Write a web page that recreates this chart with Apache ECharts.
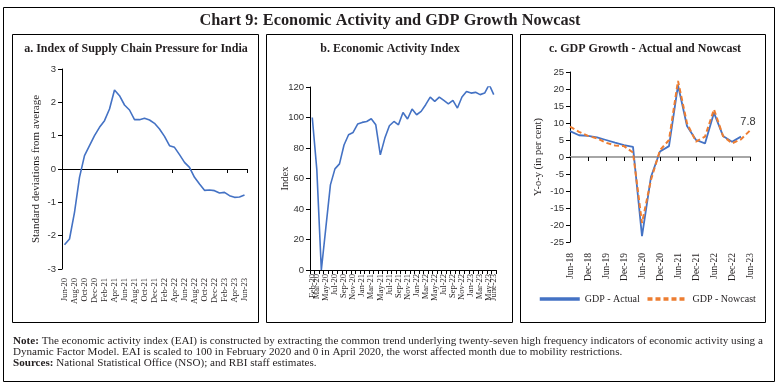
<!DOCTYPE html>
<html><head><meta charset="utf-8">
<script src="https://cdn.jsdelivr.net/npm/echarts@6/dist/echarts.min.js"></script>
<style>html,body{margin:0;padding:0;background:#fff}#c{width:781px;height:387px}</style>
</head><body><div id="c"></div>
<script>
// ---- Panel a: Index of Supply Chain Pressure for India ----
const scpiMonths = ['Jun-20','Jul-20','Aug-20','Sep-20','Oct-20','Nov-20','Dec-20','Jan-21','Feb-21','Mar-21','Apr-21','May-21','Jun-21','Jul-21','Aug-21','Sep-21','Oct-21','Nov-21','Dec-21','Jan-22','Feb-22','Mar-22','Apr-22','May-22','Jun-22','Jul-22','Aug-22','Sep-22','Oct-22','Nov-22','Dec-22','Jan-23','Feb-23','Mar-23','Apr-23','May-23','Jun-23'];
const scpiValues = [-2.27,-2.1,-1.3,-0.25,0.4,0.7,1.0,1.25,1.45,1.8,2.37,2.2,1.92,1.77,1.48,1.48,1.52,1.47,1.37,1.2,0.98,0.7,0.65,0.43,0.2,0.05,-0.25,-0.45,-0.64,-0.63,-0.65,-0.72,-0.7,-0.8,-0.85,-0.84,-0.78];

// ---- Panel b: Economic Activity Index ----
const eaiMonths = ['Feb-20','Mar-20','Apr-20','May-20','Jun-20','Jul-20','Aug-20','Sep-20','Oct-20','Nov-20','Dec-20','Jan-21','Feb-21','Mar-21','Apr-21','May-21','Jun-21','Jul-21','Aug-21','Sep-21','Oct-21','Nov-21','Dec-21','Jan-22','Feb-22','Mar-22','Apr-22','May-22','Jun-22','Jul-22','Aug-22','Sep-22','Oct-22','Nov-22','Dec-22','Jan-23','Feb-23','Mar-23','Apr-23','May-23','June-23'];
const eaiValues = [100,66,0,28,55.8,66.3,69.6,82,88.7,90.2,95.7,96.8,97.4,99.2,95.2,75.5,86.5,94.6,97.4,95.2,103.3,99,105.5,101.8,104,108.4,113.4,110.6,113.4,111.2,109,111.2,106.2,113.4,117.1,116,116.5,115,116,121.6,115];

// ---- Panel c: GDP Growth - Actual and Nowcast ----
const gdpQuarters = ['Jun-18','Sep-18','Dec-18','Mar-19','Jun-19','Sep-19','Dec-19','Mar-20','Jun-20','Sep-20','Dec-20','Mar-21','Jun-21','Sep-21','Dec-21','Mar-22','Jun-22','Sep-22','Dec-22','Mar-23','Jun-23'];
const gdpActual = [7.6,6.4,6.2,5.8,5.0,4.2,3.5,3.0,-23.3,-5.8,1.6,3.2,21.1,9.1,5.0,4.0,13.0,6.2,4.5,6.0,null];
const gdpNowcast = [8.9,7.4,6.2,5.5,4.2,3.4,3.2,1.3,-19.4,-6.7,2.0,5.0,22.4,9.9,4.5,6.0,14.0,6.2,4.0,5.2,7.8];

const SERIF = '"Liberation Serif", "DejaVu Serif", serif';
const SANS = '"Liberation Sans", Arial, sans-serif';
const BLUE = '#4472C4';
const ORANGE = '#ED7D31';
const TXT = '#231F20';

const chart = echarts.init(document.getElementById('c'), null, {renderer: 'canvas'});

function yAx(grid, min, max, interval, name, nameGap, nameSize) {
  return {
    type: 'value', gridIndex: grid, min: min, max: max, interval: interval,
    axisLine: {show: true, lineStyle: {color: '#000', width: 1}},
    axisTick: {show: true, length: 4, lineStyle: {color: '#000'}},
    splitLine: {show: false},
    axisLabel: {fontFamily: SANS, fontSize: 9.5, color: '#333', margin: 6},
    name: name, nameLocation: 'middle', nameGap: nameGap, nameMoveOverlap: false,
    nameTextStyle: {fontFamily: SERIF, fontSize: nameSize, color: TXT}
  };
}

function everyOther(v, i) { return i % 2 === 0 ? v : ''; }
const lastIdx = gdpNowcast.length - 1;

const option = {
  animation: false,
  backgroundColor: '#fff',
  grid: [
    {left: 62, top: 69, width: 185, height: 200},
    {left: 310, top: 87, width: 186, height: 183},
    {left: 570, top: 72, width: 180, height: 170}
  ],
  xAxis: [
    {type: 'category', gridIndex: 0, data: scpiMonths, boundaryGap: true,
     axisLine: {show: true, onZero: true, lineStyle: {color: '#000', width: 1}},
     axisTick: {show: true, length: 4, lineStyle: {color: '#000'}},
     axisLabel: {show: false}},
    {type: 'category', gridIndex: 0, data: scpiMonths, boundaryGap: true, position: 'bottom',
     axisLine: {show: false, onZero: false}, axisTick: {show: false},
     axisLabel: {rotate: 90, interval: 0, formatter: everyOther, fontFamily: SERIF, fontSize: 8.5, color: TXT, margin: 9}},
    {type: 'category', gridIndex: 1, data: eaiMonths, boundaryGap: true,
     axisLine: {show: true, onZero: false, lineStyle: {color: '#000', width: 1}},
     axisTick: {show: true, length: 4, lineStyle: {color: '#000'}},
     axisLabel: {rotate: 90, interval: 0, fontFamily: SERIF, fontSize: 8.5, color: TXT, margin: 4,
       formatter: function (v, i) { return (i === 0 || i % 2 === 1 || i === eaiMonths.length - 1) ? v : ''; }}},
    {type: 'category', gridIndex: 2, data: gdpQuarters, boundaryGap: false,
     axisLine: {show: true, onZero: true, lineStyle: {color: '#A6A6A6', width: 2}},
     axisTick: {show: true, interval: 1, length: 4, lineStyle: {color: '#000'}},
     axisLabel: {show: false}},
    {type: 'category', gridIndex: 2, data: gdpQuarters, boundaryGap: false, position: 'bottom',
     axisLine: {show: false, onZero: false}, axisTick: {show: false},
     axisLabel: {rotate: 90, interval: 0, formatter: everyOther, fontFamily: SERIF, fontSize: 9.5, color: TXT, margin: 11}}
  ],
  yAxis: [
    yAx(0, -3, 3, 1, 'Standard deviations from average', 20, 11),
    yAx(1, 0, 120, 20, 'Index', 19, 10.5),
    yAx(2, -25, 25, 5, 'Y-o-y (in per cent)', 26, 10.5)
  ],
  legend: {
    data: ['GDP - Actual', 'GDP - Nowcast'],
    left: 538, top: 294, padding: 0, itemWidth: 40, itemHeight: 12, itemGap: 6,
    textStyle: {fontFamily: SERIF, fontSize: 10, color: TXT},
    itemStyle: {opacity: 0},
    lineStyle: {width: 3.5}
  },
  series: [
    {type: 'line', xAxisIndex: 0, yAxisIndex: 0, data: scpiValues, symbol: 'none',
     lineStyle: {color: BLUE, width: 1.6}, itemStyle: {color: BLUE}},
    {type: 'line', xAxisIndex: 2, yAxisIndex: 1, data: eaiValues, symbol: 'none',
     lineStyle: {color: BLUE, width: 1.6}, itemStyle: {color: BLUE}},
    {type: 'line', name: 'GDP - Actual', xAxisIndex: 3, yAxisIndex: 2, data: gdpActual, symbol: 'none',
     lineStyle: {color: BLUE, width: 1.8}, itemStyle: {color: BLUE}},
    {type: 'line', name: 'GDP - Nowcast', xAxisIndex: 3, yAxisIndex: 2, symbol: 'none',
     data: gdpNowcast,
     lineStyle: {color: ORANGE, width: 2, type: [5, 3]}, itemStyle: {color: ORANGE},
     markPoint: {
       symbol: 'circle', symbolSize: 2, silent: true,
       itemStyle: {color: 'rgba(0,0,0,0)'},
       label: {show: true, position: 'top', distance: 2, offset: [-2, 0],
               fontFamily: SANS, fontSize: 11, color: '#333', formatter: '{c}'},
       data: [{coord: [lastIdx, gdpNowcast[lastIdx]], value: gdpNowcast[lastIdx]}]
     }}
  ],
  graphic: [
    {type: 'rect', shape: {x: 3.5, y: 7.5, width: 771, height: 374}, style: {fill: null, stroke: '#000', lineWidth: 1}, silent: true},
    {type: 'rect', shape: {x: 12.5, y: 34.5, width: 246, height: 288}, style: {fill: null, stroke: '#000', lineWidth: 1}, silent: true},
    {type: 'rect', shape: {x: 266.5, y: 34.5, width: 246, height: 288}, style: {fill: null, stroke: '#000', lineWidth: 1}, silent: true},
    {type: 'rect', shape: {x: 520.5, y: 34.5, width: 245, height: 288}, style: {fill: null, stroke: '#000', lineWidth: 1}, silent: true},
    {type: 'text', x: 390, y: 21, style: {text: 'Chart 9: Economic Activity and GDP Growth Nowcast', fontFamily: SERIF, fontSize: 16.3, fontWeight: 'bold', fill: TXT, align: 'center', verticalAlign: 'middle'}},
    {type: 'text', x: 136, y: 49, style: {text: 'a. Index of Supply Chain Pressure for India', fontFamily: SERIF, fontSize: 12, fontWeight: 'bold', fill: TXT, align: 'center', verticalAlign: 'middle'}},
    {type: 'text', x: 390, y: 49, style: {text: 'b. Economic Activity Index', fontFamily: SERIF, fontSize: 12, fontWeight: 'bold', fill: TXT, align: 'center', verticalAlign: 'middle'}},
    {type: 'text', x: 645, y: 49, style: {text: 'c. GDP Growth - Actual and Nowcast', fontFamily: SERIF, fontSize: 12, fontWeight: 'bold', fill: TXT, align: 'center', verticalAlign: 'middle'}},
    {type: 'text', x: 13, y: 335, style: {
      text: '{b|Note:} The economic activity index (EAI) is constructed by extracting the common trend underlying twenty-seven high frequency indicators of economic activity using a\nDynamic Factor Model. EAI is scaled to 100 in February 2020 and 0 in April 2020, the worst affected month due to mobility restrictions.\n{b|Sources:} National Statistical Office (NSO); and RBI staff estimates.',
      fontFamily: SERIF, fontSize: 11.1, lineHeight: 11.4, fill: TXT,
      rich: {b: {fontFamily: SERIF, fontSize: 11.1, fontWeight: 'bold', fill: TXT, lineHeight: 11.4}}
    }}
  ]
};
chart.setOption(option);
</script>
</body></html>
